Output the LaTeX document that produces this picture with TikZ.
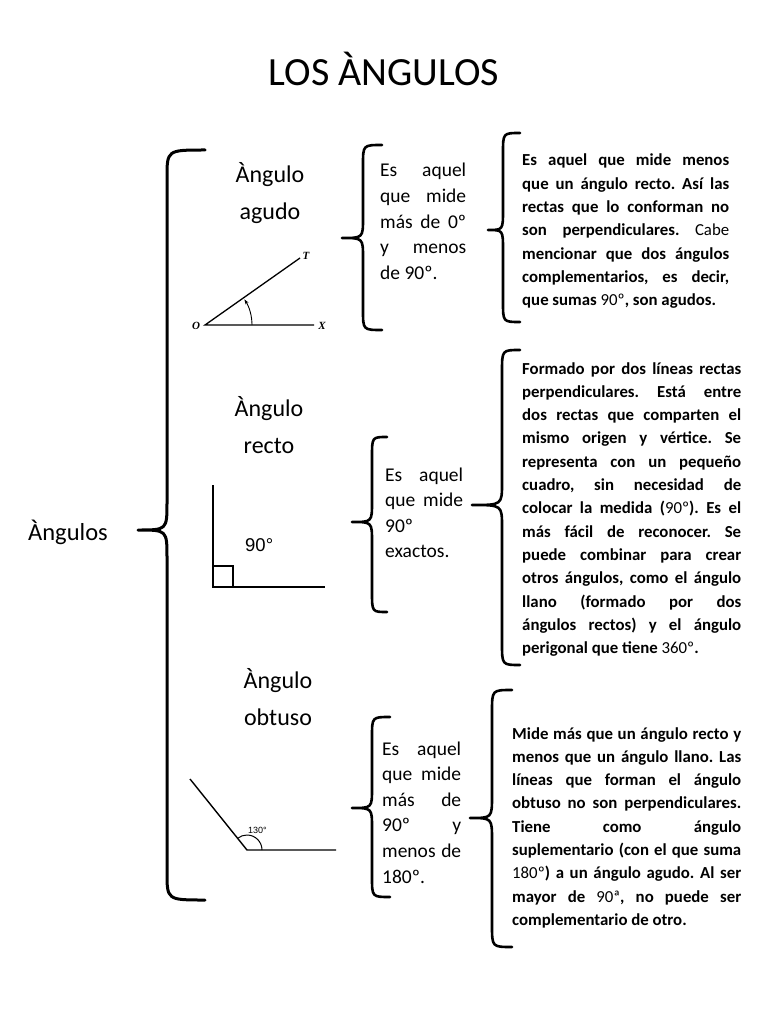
\documentclass[tikz,border=0pt]{standalone}
\usepackage{fontspec}
\setmainfont{Carlito}
\newfontfamily\arialf{Liberation Sans}
\newfontfamily\timesf{Liberation Serif}
\usetikzlibrary{arrows.meta}
\hyphenpenalty=10000
\exhyphenpenalty=10000
\tolerance=10000
\hbadness=10000
\hfuzz=20pt
\frenchspacing
\newcommand{\mybrace}[8]{% style xe xv xt yt ym yb r
 \draw[#1] ({#2},{#5}) .. controls ({#3},{#5}) .. ({#3},{#5+#8}) -- ({#3},{#6-#8})
   .. controls ({#3},{#6}) .. ({#4},{#6}) .. controls ({#3},{#6}) .. ({#3},{#6+#8})
   -- ({#3},{#7-#8}) .. controls ({#3},{#7}) .. ({#2},{#7});}
\newcommand{\jl}[1]{\makebox[\linewidth][s]{#1}}
\begin{document}
\begin{tikzpicture}[x=1pt,y=-1pt,
  brc/.style={line width=2.6pt, line cap=round, line join=round},
  bigbrc/.style={line width=3pt, line cap=round, line join=round},
  head/.style={inner sep=0pt, font=\fontsize{24}{37}\selectfont, align=center, anchor=base},
  midtxt/.style={anchor=base west, inner sep=0pt, text width=#1, align=justify,
     font=\fontsize{19.5}{25.6}\selectfont},
  rtxt/.style={anchor=base west, inner sep=0pt, text width=#1, align=justify,
     font=\bfseries\fontsize{16.8}{23.3}\selectfont},
  fig/.style={line width=1.3pt},
  lbl/.style={inner sep=0pt, anchor=base, font=\timesf\itshape\bfseries\fontsize{11}{11}\selectfont}]
\fill[white] (0,0) rectangle (768,1024);
\useasboundingbox (0,0) rectangle (768,1024);

% title
\node[inner sep=0pt, anchor=base, font=\fontsize{40}{40}\selectfont] (title) at (384,86) {LOS ÀNGULOS};

% left label and big brace
\node[inner sep=0pt, anchor=base west, font=\fontsize{24.5}{30}\selectfont] (angs) at (28,540) {Àngulos};
\mybrace{bigbrc}{205}{167}{138}{150}{530}{900}{28}

% headings (anchor = baseline of last line)
\node[head] (h1) at (270,220) {Àngulo\\agudo};
\node[head] (h2) at (269,453) {Àngulo\\recto};
\node[head] (h3) at (278,725) {Àngulo\\obtuso};

% acute angle figure
\coordinate (O) at (205,325);
\coordinate (Xe) at (314,325);
\coordinate (Te) at (300,258);
\draw[fig] (Xe) -- (O) -- (Te);
\draw[line width=0.9pt,-{Stealth[length=5pt,width=3.5pt]}] (252,325) arc[start angle=0,end angle=-33,radius=47];
\node[lbl] (lo) at (196,329) {O};
\node[lbl] (lx) at (322,329) {X};
\node[lbl] (lt) at (306,259) {T};

% right angle figure
\draw[line width=2pt] (213,485) -- (213,587) -- (325,587);
\draw[line width=1.6pt] (213,566) rectangle (233,587);
\node[inner sep=0pt, anchor=base west, font=\arialf\fontsize{18.5}{18}\selectfont] (l90) at (245,551) {90°};

% obtuse angle figure
\draw[line width=1.4pt] (190,779) -- (247,850) -- (336,850);
\draw[line width=1pt] (262,850) arc[start angle=0,end angle=-129,radius=15];
\node[inner sep=0pt, anchor=base west, font=\arialf\fontsize{9}{9}\selectfont] (l130) at (248,833) {130°};

% middle braces
\mybrace{brc}{382}{363}{342}{145}{238}{330}{20}
\mybrace{brc}{387}{372}{352}{437}{522}{612}{20}
\mybrace{brc}{390}{372}{352}{717}{808}{897}{20}

% middle texts
\node[midtxt=86pt] (m1) at (380,177) {\jl{Es aquel}\newline\jl{que mide}\newline\jl{más de 0º}\newline\jl{y menos}\newline de 90º.};
\node[midtxt=78pt] (m2) at (385,481) {\jl{Es aquel}\newline\jl{que mide}\newline 90º\newline exactos.};
\node[midtxt=79pt] (m3) at (382,755) {\jl{Es aquel}\newline\jl{que mide}\newline\jl{más de}\newline\jl{90º y}\newline\jl{menos de}\newline 180º.};

% right braces
\mybrace{brc}{520}{503}{488}{133}{230}{322}{20}
\mybrace{brc}{520}{502}{472}{350}{505}{665}{22}
\mybrace{brc}{512}{492}{470}{690}{818}{947}{22}

% right texts
\node[rtxt=207pt] (r1) at (522,166) {Es aquel que mide menos\linebreak que un ángulo recto. Así las\linebreak rectas que lo conforman no\linebreak son perpendiculares. \textmd{Cabe}\linebreak mencionar que dos ángulos\linebreak complementarios, es decir,\linebreak que sumas \textmd{90º}, son agudos.};
\node[rtxt=219pt] (r2) at (522,374) {Formado por dos líneas rectas\linebreak perpendiculares. Está entre\linebreak dos rectas que comparten el\linebreak mismo origen y vértice. Se\linebreak representa con un pequeño\linebreak cuadro, sin necesidad de\linebreak colocar la medida (\textmd{90º}). Es el\linebreak más fácil de reconocer. Se\linebreak puede combinar para crear\linebreak otros ángulos, como el ángulo\linebreak llano (formado por dos\linebreak ángulos rectos) y el ángulo\linebreak perigonal que tiene \textmd{360º}.};
\node[rtxt=229pt] (r3) at (512,739) {Mide más que un ángulo recto y\linebreak menos que un ángulo llano. Las\linebreak líneas que forman el ángulo\linebreak obtuso no son perpendiculares.\linebreak Tiene como ángulo\linebreak suplementario (con el que suma\linebreak \textmd{180º}) a un ángulo agudo. Al ser\linebreak mayor de \textmd{90ª}, no puede ser\linebreak complementario de otro.};
\end{tikzpicture}
\end{document}
